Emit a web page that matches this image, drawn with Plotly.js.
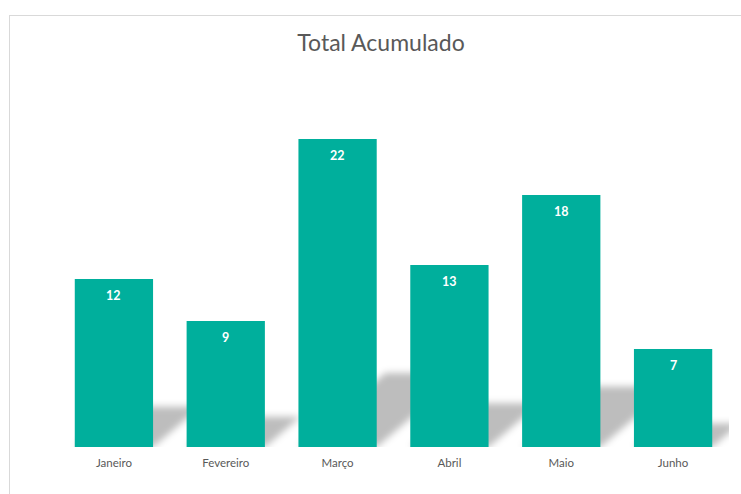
<!DOCTYPE html>
<html><head><meta charset="utf-8">
<script src="https://cdn.plot.ly/plotly-3.0.1.min.js"></script>
<style>
html,body{margin:0;padding:0;background:#fff;overflow:hidden;width:741px;height:494px;}
#chart{position:absolute;left:9px;top:15px;width:742px;height:478px;border-left:1px solid #d9d9d9;border-top:1px solid #d9d9d9;}
</style></head><body><div id="chart"></div>
<script>
const months = ['Janeiro','Fevereiro','Março','Abril','Maio','Junho'];
const totals = [12, 9, 22, 13, 18, 7];
const chartTitle = 'Total Acumulado';

const W = 742, H = 478;
const M = {l:48, r:23, t:81, b:47};
const yMax = 25;
const idx = months.map((m,i)=>i);
const barWidth = 0.7;
const pxPerX = (W - M.l - M.r) / months.length;
const pxPerY = (H - M.t - M.b) / yMax;

// perspective shadow shapes derived from the data
const shadowHeightFrac = 0.24, shadowSlope = 0.85;
const shapes = totals.map((v,i)=>{
  const xl = i - barWidth/2, xr = i + barWidth/2;
  const h = shadowHeightFrac * v;
  const shift = (h * pxPerY / shadowSlope) / pxPerX;
  return {type:'path', xref:'x', yref:'y', layer:'below',
    path:`M ${xl},0 L ${xr},0 L ${xr+shift},${h} L ${xl+shift},${h} Z`,
    fillcolor:'rgba(0,0,0,0.26)', line:{width:0}};
});

const annotations = totals.map((v,i)=>({
  x:i, y:v, xref:'x', yref:'y', text:String(v), showarrow:false,
  yanchor:'middle', yshift:-16,
  font:{family:'Lato, "Noto Sans", sans-serif', size:12.5, color:'#ffffff', weight:'bold'}
}));

const trace = {type:'bar', x:idx, y:totals, width:barWidth,
  marker:{color:'#00AF9C', line:{width:0}}, hoverinfo:'none'};

const layout = {
  width:W, height:H, margin:M,
  paper_bgcolor:'rgba(0,0,0,0)', plot_bgcolor:'rgba(0,0,0,0)',
  title:{text:chartTitle, x:0.5, xref:'container', y:1-27/H, yref:'container', yanchor:'middle',
    font:{family:'Lato, "Noto Sans", sans-serif', size:23, color:'#595959'}},
  xaxis:{range:[-0.5, months.length-0.5], tickvals:idx, ticktext:months, showgrid:false,
    zeroline:false, showline:false, ticks:'', fixedrange:true, ticklabelstandoff:7,
    tickfont:{family:'Lato, "Noto Sans", sans-serif', size:11.5, color:'#595959'}},
  yaxis:{range:[0,yMax], visible:false, fixedrange:true},
  shapes:shapes, annotations:annotations, showlegend:false
};

Plotly.newPlot('chart',[trace],layout,{displayModeBar:false,staticPlot:true}).then(gd=>{
  const svg = gd.querySelector('svg.main-svg');
  const ns = 'http://www.w3.org/2000/svg';
  let defs = svg.querySelector('defs');
  if(!defs){defs = document.createElementNS(ns,'defs'); svg.insertBefore(defs, svg.firstChild);}
  const f = document.createElementNS(ns,'filter');
  f.setAttribute('id','shBlur'); f.setAttribute('x','-50%'); f.setAttribute('y','-50%');
  f.setAttribute('width','200%'); f.setAttribute('height','200%');
  const g = document.createElementNS(ns,'feGaussianBlur');
  g.setAttribute('stdDeviation','3.5');
  f.appendChild(g); defs.appendChild(f);
  gd.querySelectorAll('.shapelayer path').forEach(p=>p.setAttribute('filter','url(#shBlur)'));
});
</script></body></html>
